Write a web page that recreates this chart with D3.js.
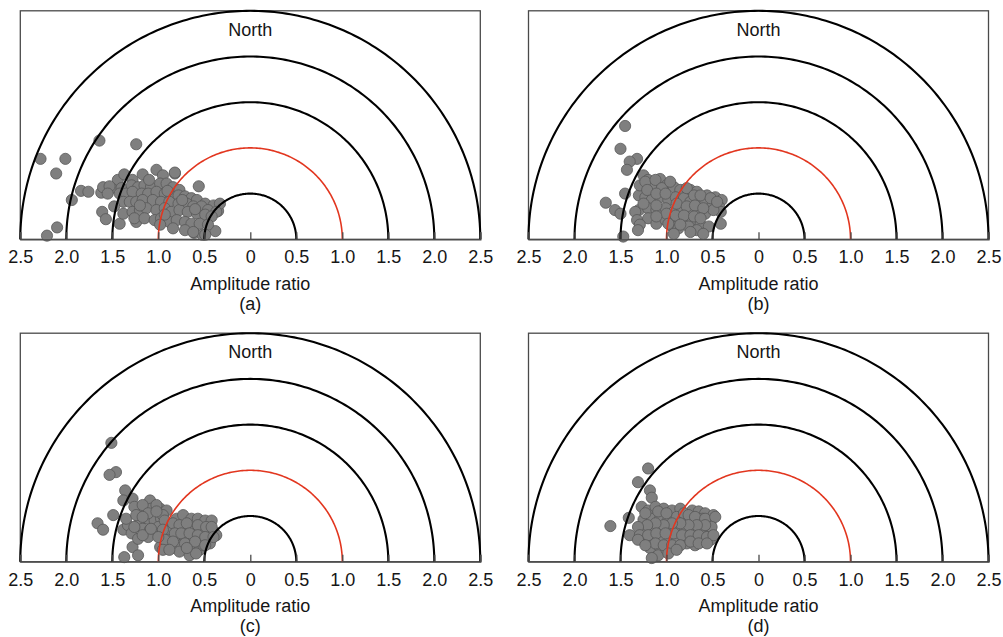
<!DOCTYPE html>
<html>
<head>
<meta charset="utf-8">
<script src="https://cdn.jsdelivr.net/npm/d3@7"></script>
<style>
  html, body { margin: 0; padding: 0; background: #fff; }
  svg { display: block; }
  text { font-family: "Liberation Sans", Arial, sans-serif; fill: #161616; }
</style>
</head>
<body>
<svg id="chart" width="1003" height="637"></svg>
<script>
// Axis ticks (signed east/west position) and the amplitude-ratio rings
const tickValues = [-2.5, -2, -1.5, -1, -0.5, 0, 0.5, 1, 1.5, 2, 2.5];
const ringRadii = [0.5, 1.0, 1.5, 2.0, 2.5];
const referenceRing = 1.0;
const panelLabels = ["(a)", "(b)", "(c)", "(d)"];

// Station points as [east, north] components in amplitude-ratio units
const pointsA = [
  [-2.28,0.88],[-2.01,0.88],[-2.11,0.72],[-1.64,1.08],[-1.24,1.04],[-1.94,0.43],[-2.10,0.13],[-2.21,0.04],
  [-1.84,0.53],[-1.76,0.52],[-1.62,0.51],[-1.61,0.30],[-1.57,0.22],[-1.42,0.17],[-1.24,0.19],[-0.56,0.58],
  [-0.82,0.72],[-0.38,0.09],[-0.61,0.07],[-0.52,0.05],[-0.35,0.31],[-1.44,0.65],[-1.51,0.56],
  [-1.37,0.71],[-1.17,0.71],[-1.02,0.76],[-0.95,0.70],[-0.82,0.73],[-1.28,0.65],[-1.60,0.57],[-1.53,0.58],
  [-1.55,0.50],[-1.40,0.56],[-1.29,0.59],[-1.22,0.57],[-1.15,0.59],[-1.08,0.57],[-0.98,0.61],[-0.91,0.61],
  [-0.84,0.57],[-0.77,0.54],[-1.42,0.50],[-1.35,0.50],[-1.28,0.52],[-1.18,0.50],[-1.11,0.50],[-1.02,0.52],
  [-0.93,0.50],[-0.86,0.47],[-0.78,0.48],[-0.71,0.47],[-0.64,0.45],[-0.58,0.43],[-0.49,0.39],[-0.40,0.37],
  [-0.33,0.39],[-1.38,0.41],[-1.31,0.41],[-1.24,0.41],[-1.17,0.43],[-1.06,0.43],[-0.97,0.41],[-0.88,0.41],
  [-0.78,0.39],[-0.69,0.39],[-0.62,0.36],[-0.53,0.36],[-0.46,0.32],[-0.37,0.30],[-1.48,0.36],[-1.38,0.28],
  [-1.28,0.30],[-1.20,0.32],[-1.13,0.34],[-1.02,0.32],[-0.93,0.34],[-0.86,0.30],[-0.77,0.32],[-0.68,0.30],
  [-0.58,0.28],[-0.49,0.27],[-0.42,0.25],[-1.26,0.23],[-1.15,0.23],[-1.04,0.21],[-0.97,0.23],[-0.88,0.19],
  [-0.80,0.21],[-0.71,0.19],[-0.64,0.17],[-0.55,0.17],[-0.46,0.16],[-0.98,0.16],[-0.84,0.12],[-0.71,0.10],
  [-0.62,0.08],[-0.49,0.05],[-1.10,0.65],[-0.90,0.53],[-0.74,0.43],[-0.60,0.33],[-1.20,0.37],[-0.93,0.27]
];
const pointsB = [
  [-1.45,1.24],[-1.50,0.99],[-1.32,0.88],[-1.40,0.85],[-1.43,0.76],[-1.25,0.70],[-1.20,0.65],[-1.66,0.40],
  [-1.56,0.32],[-1.50,0.28],[-1.47,0.03],[-1.45,0.50],[-1.30,0.48],[-1.29,0.59],[-1.07,0.66],[-1.16,0.59],
  [-1.00,0.59],[-0.92,0.57],[-0.85,0.54],[-0.74,0.54],[-0.67,0.52],[-0.56,0.48],[-0.47,0.46],[-0.40,0.43],
  [-0.43,0.36],[-0.41,0.30],[-0.41,0.17],[-1.23,0.46],[-1.16,0.43],[-1.07,0.46],[-0.98,0.43],[-0.90,0.46],
  [-0.81,0.45],[-0.74,0.41],[-0.65,0.43],[-0.58,0.39],[-0.50,0.36],[-1.30,0.32],[-1.20,0.34],[-1.11,0.32],
  [-1.01,0.34],[-0.92,0.30],[-0.83,0.32],[-0.74,0.28],[-0.65,0.32],[-0.58,0.28],[-0.49,0.32],[-1.34,0.30],
  [-1.32,0.21],[-1.20,0.23],[-1.11,0.17],[-1.01,0.21],[-0.90,0.23],[-0.81,0.19],[-0.72,0.21],[-0.63,0.16],
  [-0.54,0.14],[-1.29,0.16],[-1.31,0.10],[-0.94,0.14],[-0.87,0.12],[-0.76,0.14],[-0.67,0.10],[-0.92,0.06],
  [-0.74,0.08],[-0.60,0.06],
  [-1.23,0.63],[-1.12,0.65],[-1.05,0.56],[-0.96,0.63],[-0.78,0.56],[-0.70,0.48],[-0.63,0.48],[-0.52,0.45],
  [-0.45,0.41],[-1.21,0.54],[-1.11,0.50],[-1.01,0.50],[-0.89,0.39],[-0.78,0.36],[-0.69,0.37],[-0.60,0.34],
  [-1.11,0.37],[-1.00,0.28],[-0.90,0.26],[-0.81,0.26],[-1.11,0.25],[-0.98,0.17],[-0.85,0.16],[-0.70,0.25],
  [-0.63,0.23],[-1.25,0.39]
];
const pointsC = [
  [-1.51,1.30],[-1.46,0.98],[-1.53,0.95],[-1.36,0.78],[-1.38,0.67],[-1.28,0.69],[-1.49,0.51],[-1.66,0.42],
  [-1.60,0.35],[-1.37,0.05],[-1.38,0.35],[-1.33,0.40],[-1.35,0.47],[-1.29,0.31],[-1.28,0.16],[-1.22,0.25],
  [-1.22,0.07],[-1.09,0.67],[-1.22,0.56],[-1.15,0.56],[-1.08,0.58],[-0.98,0.58],[-0.91,0.56],[-1.20,0.45],
  [-1.11,0.47],[-1.04,0.45],[-0.97,0.47],[-1.17,0.36],[-1.09,0.35],[-1.00,0.38],[-1.11,0.27],[-0.89,0.42],
  [-0.80,0.47],[-0.73,0.51],[-0.64,0.47],[-0.57,0.47],[-0.49,0.45],[-0.42,0.45],[-0.88,0.35],[-0.78,0.35],
  [-0.69,0.36],[-0.60,0.35],[-0.51,0.36],[-0.40,0.33],[-0.97,0.27],[-0.89,0.24],[-0.80,0.25],[-0.71,0.25],
  [-0.62,0.27],[-0.53,0.24],[-0.44,0.22],[-0.37,0.29],[-0.98,0.16],[-0.91,0.18],[-0.84,0.15],[-0.75,0.18],
  [-0.64,0.16],[-0.55,0.13],[-0.44,0.20],[-0.77,0.11],[-0.66,0.07],[-0.59,0.09],[-0.51,0.18],[-0.95,0.51],
  [-1.26,0.60],[-1.17,0.62],[-1.02,0.62],[-1.11,0.53],[-1.24,0.51],[-1.17,0.49],[-1.02,0.55],[-0.93,0.45],
  [-0.84,0.42],[-0.77,0.40],[-0.69,0.42],[-0.57,0.40],[-0.48,0.38],[-0.42,0.38],[-0.95,0.35],[-0.82,0.31],
  [-0.75,0.31],[-0.66,0.31],[-0.57,0.29],[-0.49,0.27],[-0.40,0.27],[-0.93,0.24],[-0.84,0.22],[-0.71,0.20],
  [-0.60,0.22],[-0.49,0.18],[-0.95,0.13],[-0.88,0.13],[-0.69,0.15],[-1.00,0.27],[-1.26,0.38],[-1.17,0.29],
  [-1.08,0.36]
];
const pointsD = [
  [-1.20,1.02],[-1.31,0.87],[-1.18,0.78],[-1.16,0.70],[-1.41,0.48],[-1.61,0.39],[-1.40,0.29],[-1.27,0.60],
  [-1.20,0.56],[-1.12,0.60],[-1.03,0.58],[-0.94,0.56],[-0.85,0.58],[-0.72,0.56],[-0.65,0.55],[-0.58,0.53],
  [-0.49,0.51],[-1.25,0.46],[-1.16,0.47],[-1.07,0.47],[-0.98,0.46],[-0.89,0.49],[-0.80,0.46],[-0.71,0.46],
  [-0.61,0.47],[-0.52,0.44],[-1.25,0.35],[-1.14,0.36],[-1.05,0.35],[-0.96,0.36],[-0.89,0.36],[-0.80,0.35],
  [-0.71,0.35],[-0.61,0.36],[-0.52,0.33],[-1.27,0.26],[-1.18,0.24],[-1.07,0.26],[-0.98,0.27],[-0.89,0.26],
  [-0.80,0.24],[-0.71,0.26],[-0.61,0.22],[-0.52,0.24],[-1.18,0.15],[-1.07,0.16],[-0.91,0.15],[-0.78,0.20],
  [-0.69,0.18],[-1.09,0.07],[-1.16,0.04],[-1.00,0.13],[-1.03,0.24],[-0.92,0.31],
  [-1.23,0.53],[-1.09,0.55],[-1.00,0.53],[-0.81,0.53],[-0.76,0.51],[-0.69,0.49],[-0.58,0.47],[-0.47,0.49],
  [-0.51,0.38],[-0.58,0.40],[-0.67,0.40],[-0.76,0.40],[-0.85,0.42],[-0.94,0.42],[-1.03,0.40],[-1.12,0.42],
  [-1.21,0.40],[-1.31,0.38],[-1.29,0.29],[-1.20,0.29],[-1.11,0.31],[-1.01,0.31],[-0.83,0.29],[-0.74,0.29],
  [-0.65,0.29],[-0.56,0.27],[-0.49,0.29],[-1.12,0.20],[-1.03,0.18],[-0.94,0.18],[-0.85,0.18],[-0.74,0.22],
  [-0.65,0.20],[-0.98,0.09],[-0.89,0.13],[-0.56,0.20],[-1.31,0.24],[-1.23,0.18]
];
const panelPoints = [pointsA, pointsB, pointsC, pointsD];

// Panel placement: centre of the semicircle (x) and baseline (y)
const panelCentres = [[250.3, 239.3], [758.5, 239.3], [250.3, 561.7], [758.5, 561.7]];
const halfWidth = 230;    // pixels for 2.5 along east-west
const fullHeight = 228.5; // pixels for 2.5 northward
const fontSize = 18;

const svg = d3.select("#chart");
svg.append("rect").attr("width", 1003).attr("height", 637).attr("fill", "#fff");

panelPoints.forEach((pts, i) => {
  const [cx, by] = panelCentres[i];
  const x = d3.scaleLinear().domain([-2.5, 2.5]).range([cx - halfWidth, cx + halfWidth]);
  const y = d3.scaleLinear().domain([0, 2.5]).range([by, by - fullHeight]);
  const g = svg.append("g");

  // frame
  g.append("rect")
    .attr("x", x(-2.5)).attr("y", y(2.5))
    .attr("width", x(2.5) - x(-2.5)).attr("height", y(0) - y(2.5))
    .attr("fill", "none").attr("stroke", "#4a4a4a").attr("stroke-width", 1.3);

  // points
  g.append("g").selectAll("circle").data(pts).join("circle")
    .attr("cx", d => x(d[0])).attr("cy", d => y(d[1])).attr("r", 5.6)
    .attr("fill", "#7f7f7f").attr("stroke", "#585858").attr("stroke-width", 0.8);

  // rings
  const angles = d3.range(0, 181, 1).map(a => a * Math.PI / 180);
  const ring = r => d3.line()(angles.map(t => [x(r * Math.cos(t)), y(r * Math.sin(t))]));
  g.append("g").selectAll("path").data(ringRadii).join("path")
    .attr("d", ring)
    .attr("fill", "none")
    .attr("stroke", r => r === referenceRing ? "#e2361f" : "#000")
    .attr("stroke-width", r => r === referenceRing ? 1.6 : 2.1);

  // bottom axis with inward ticks
  const axis = d3.axisBottom(x).tickValues(tickValues).tickSize(-7).tickPadding(0)
    .tickFormat(d => d === 0 ? "0" : Math.abs(d).toFixed(1));
  const ag = g.append("g").attr("transform", `translate(0,${by})`).call(axis);
  ag.select(".domain").attr("stroke", "#4a4a4a").attr("stroke-width", 1.3);
  ag.selectAll(".tick line").attr("stroke", "#4a4a4a").attr("stroke-width", 1.3);
  ag.selectAll(".tick text")
    .attr("y", 24.2).attr("dy", null)
    .attr("font-size", fontSize)
    .attr("font-family", "Liberation Sans, Arial, sans-serif")
    .attr("fill", "#161616");

  g.append("text").attr("x", x(0)).attr("y", y(2.5) + 25)
    .attr("text-anchor", "middle").attr("font-size", fontSize).text("North");
  g.append("text").attr("x", x(0)).attr("y", by + 50.3)
    .attr("text-anchor", "middle").attr("font-size", fontSize).text("Amplitude ratio");
  g.append("text").attr("x", x(0)).attr("y", by + 70.3)
    .attr("text-anchor", "middle").attr("font-size", fontSize).text(panelLabels[i]);
});
</script>
</body>
</html>
